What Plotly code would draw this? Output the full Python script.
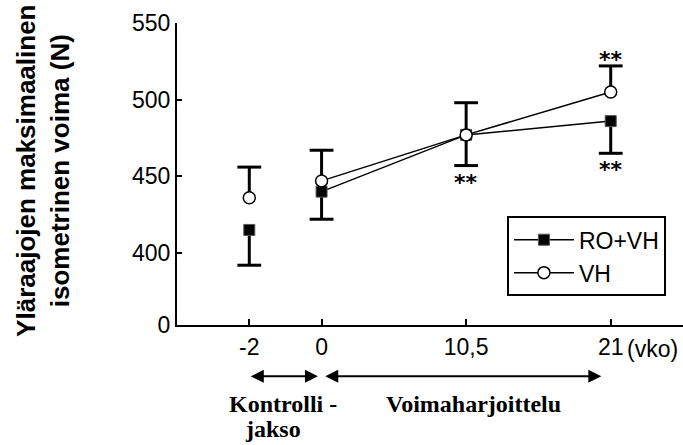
import plotly.graph_objects as go

# ---- data ----
weeks = ["-2", "0", "10,5", "21"]
ro_vh_mean = [415, 440, 477, 486]
ro_vh_sd = [23, 18, 20, 21]
vh_mean = [436, 447, 477, 505]
vh_sd = [20, 20, 21, 17]
y_tick_vals = [353, 400, 450, 500, 550]
y_tick_text = ["0", "400", "450", "500", "550"]

# ---- layout positions (non-linear week axis) ----
x_pos = [0, 1, 3, 5]

def with_gap(vals, gapval=None):
    # break the line between the control point (-2) and the training period
    return [vals[0], gapval] + list(vals[1:])

xg = [x_pos[0], 0.5] + x_pos[1:]

fig = go.Figure()

# error bars (stems) without caps
fig.add_trace(go.Scatter(
    x=x_pos, y=ro_vh_mean, mode="markers", showlegend=False, hoverinfo="skip",
    marker=dict(size=1, color="rgba(0,0,0,0)"),
    error_y=dict(type="data", symmetric=False, array=[0] * 4, arrayminus=ro_vh_sd,
                 color="black", thickness=3, width=0),
))
fig.add_trace(go.Scatter(
    x=x_pos, y=vh_mean, mode="markers", showlegend=False, hoverinfo="skip",
    marker=dict(size=1, color="rgba(0,0,0,0)"),
    error_y=dict(type="data", symmetric=False, array=vh_sd, arrayminus=[0] * 4,
                 color="black", thickness=3, width=0),
))
# caps
fig.add_trace(go.Scatter(
    x=x_pos + x_pos,
    y=[m - s for m, s in zip(ro_vh_mean, ro_vh_sd)] + [m + s for m, s in zip(vh_mean, vh_sd)],
    mode="markers", showlegend=False, hoverinfo="skip",
    marker=dict(symbol="line-ew", size=17, line=dict(color="black", width=3)),
))

# RO+VH : filled squares
fig.add_trace(go.Scatter(
    x=xg, y=with_gap(ro_vh_mean), name="RO+VH", mode="lines+markers",
    connectgaps=False,
    line=dict(color="black", width=1.5),
    marker=dict(symbol="square", size=11, color="black",
                line=dict(color="#555555", width=1)),
))

# VH : open circles
fig.add_trace(go.Scatter(
    x=xg, y=with_gap(vh_mean), name="VH", mode="lines+markers",
    connectgaps=False,
    line=dict(color="black", width=1.5),
    marker=dict(symbol="circle", size=12, color="white",
                line=dict(color="black", width=1.5)),
))

annotations = []
star_font = dict(family="DejaVu Sans", size=22, color="#000000")
# ** below RO+VH at 10,5 and 21, above VH at 21
for i in (2, 3):
    annotations.append(dict(x=x_pos[i], y=ro_vh_mean[i] - ro_vh_sd[i], xref="x", yref="y",
                            text="<b>**</b>", showarrow=False, yanchor="top", yshift=-2,
                            font=star_font))
annotations.append(dict(x=x_pos[3], y=vh_mean[3] + vh_sd[3], xref="x", yref="y",
                        text="<b>**</b>", showarrow=False, yanchor="bottom", yshift=-8,
                        font=star_font))

# (vko) unit next to last tick label
annotations.append(dict(x=x_pos[3], y=0, xref="x", yref="y domain", text="(vko)",
                        showarrow=False, xanchor="left", yanchor="top", xshift=14, yshift=-9,
                        font=dict(family="Liberation Sans", size=23, color="black")))

# period arrows
arrow_y = -0.17
for (x0, x1) in [(x_pos[0], x_pos[1] - 0.05), (x_pos[1] + 0.03, x_pos[3] - 0.13)]:
    annotations.append(dict(x=x1, y=arrow_y, ax=x0, ay=arrow_y,
                            xref="x", yref="y domain", axref="x", ayref="y domain",
                            text="", showarrow=True, arrowhead=2, startarrowhead=2,
                            arrowside="end+start", arrowsize=1.3, arrowwidth=2,
                            arrowcolor="black"))

lab_font = dict(family="Liberation Serif", size=24, color="black")
annotations.append(dict(x=(x_pos[0] + x_pos[1]) / 2 - 0.03, y=-0.26, xref="x", yref="y domain",
                        text="<b>Kontrolli -</b>", showarrow=False, yanchor="middle", font=lab_font))
annotations.append(dict(x=(x_pos[0] + x_pos[1]) / 2 - 0.17, y=-0.345, xref="x", yref="y domain",
                        text="<b>jakso</b>", showarrow=False, yanchor="middle", font=lab_font))
annotations.append(dict(x=3.1, y=-0.26, xref="x", yref="y domain",
                        text="<b>Voimaharjoittelu</b>", showarrow=False, yanchor="middle", font=lab_font))

# y-axis title
annotations.append(dict(x=-0.265, y=0.51, xref="paper", yref="paper",
                        xanchor="center", yanchor="middle",
                        text="<b>Yläraajojen maksimaalinen<br>isometrinen voima (N)</b>",
                        showarrow=False, textangle=-90,
                        font=dict(family="Liberation Sans", size=26, color="black")))

fig.update_layout(
    width=683, height=445,
    margin=dict(l=177, r=0, t=23, b=120),
    plot_bgcolor="white", paper_bgcolor="white",
    font=dict(family="Liberation Sans", size=23, color="black"),
    showlegend=True,
    legend=dict(x=0.652, y=0.36, xanchor="left", yanchor="top",
                bordercolor="black", borderwidth=2, bgcolor="white",
                font=dict(size=23), itemwidth=60),
    annotations=annotations,
)
fig.update_xaxes(range=[-1, 6], tickvals=x_pos, ticktext=["-2", "0", "10,5", "21"],
                 showline=True, linecolor="black", linewidth=2, mirror=False,
                 ticks="inside", ticklen=6, tickwidth=2, tickcolor="black",
                 showgrid=False, zeroline=False)
fig.update_yaxes(range=[353, 550], tickvals=y_tick_vals, ticktext=y_tick_text,
                 showline=True, linecolor="black", linewidth=2,
                 ticks="inside", ticklen=5, tickwidth=2, tickcolor="black",
                 showgrid=False, zeroline=False)

fig.write_html("out.html")
